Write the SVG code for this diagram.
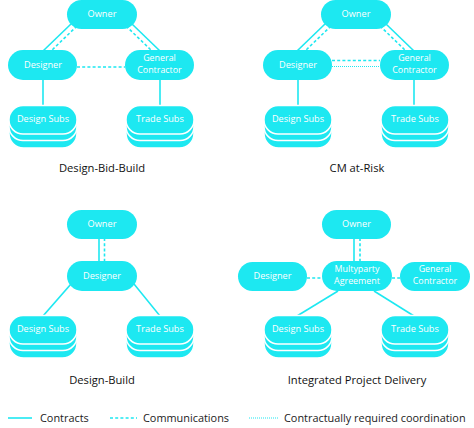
<svg xmlns="http://www.w3.org/2000/svg" width="474" height="428" viewBox="0 0 474 428">
<style>
.n{fill:#1de8f1}
.s{fill:#1de8f1;stroke:#fff;stroke-width:1.5}
.t{fill:#fff;font-family:"Open Sans","Noto Sans",sans-serif;font-size:9.2px;text-anchor:middle}
.t2{fill:#fff;font-family:"Open Sans","Noto Sans",sans-serif;font-size:8.9px;text-anchor:middle}
.c{stroke:#1de8f1;stroke-width:1.6;fill:none}
.d{stroke:#1de8f1;stroke-width:1.6;fill:none;stroke-dasharray:3 2.2}
.o{stroke:#1de8f1;stroke-width:1.2;fill:none;stroke-dasharray:1 1}
.h{fill:#111;font-family:"Open Sans","Noto Sans",sans-serif;font-size:11.2px;text-anchor:middle}
.l{fill:#222;font-family:"Open Sans","Noto Sans",sans-serif;font-size:10.9px}
</style>
<rect width="474" height="428" fill="#fff"/>
<g id="connectors">
<line class="c" x1="71" y1="24" x2="43" y2="51"/>
<line class="d" x1="77" y1="26" x2="50" y2="52"/>
<line class="c" x1="132" y1="24" x2="160" y2="51"/>
<line class="d" x1="126" y1="26" x2="152" y2="51"/>
<line class="d" x1="77" y1="67" x2="125" y2="67"/>
<line class="c" x1="43" y1="80" x2="43" y2="106"/>
<line class="c" x1="160" y1="80" x2="160" y2="106"/>
<line class="c" x1="325" y1="24" x2="297" y2="51"/>
<line class="d" x1="331" y1="26" x2="304" y2="52"/>
<line class="c" x1="386" y1="24" x2="414" y2="51"/>
<line class="d" x1="380" y1="26" x2="406" y2="51"/>
<line class="d" x1="332" y1="60.5" x2="380" y2="60.5"/>
<line class="o" x1="332" y1="66.5" x2="380" y2="66.5"/>
<line class="c" x1="298" y1="80" x2="298" y2="106"/>
<line class="c" x1="414" y1="80" x2="414" y2="106"/>
<line class="c" x1="99" y1="238" x2="99" y2="262"/>
<line class="d" x1="104.5" y1="238" x2="104.5" y2="262"/>
<line class="c" x1="71" y1="284" x2="43" y2="316"/>
<line class="c" x1="134" y1="284" x2="160" y2="316"/>
<line class="c" x1="354" y1="238" x2="354" y2="262"/>
<line class="d" x1="360" y1="238" x2="360" y2="262"/>
<line class="d" x1="307" y1="278" x2="322" y2="278"/>
<line class="d" x1="392" y1="278" x2="400" y2="278"/>
<line class="c" x1="338" y1="291" x2="297" y2="316"/>
<line class="c" x1="374" y1="291" x2="414" y2="316"/>
<line class="c" x1="8" y1="418" x2="32" y2="418"/>
<line class="d" x1="110" y1="418" x2="137" y2="418"/>
<line class="o" x1="249" y1="418" x2="279" y2="418"/>
</g>

<g id="p1-owner"><rect class="n" x="67" y="0" width="70" height="29" rx="14.5"/><text class="t" x="102" y="17">Owner</text></g>
<g id="p1-designer"><rect class="n" x="8" y="50" width="69" height="30" rx="15"/><text class="t" x="43" y="68">Designer</text></g>
<g id="p1-gc"><rect class="n" x="125" y="50" width="69" height="30" rx="15"/><text class="t2" x="159.5" y="61">General</text><text class="t2" x="159.5" y="73.4">Contractor</text></g>
<g id="p1-design-subs"><rect class="s" x="9" y="119" width="68" height="29" rx="14.5"/><rect class="s" x="9" y="112.5" width="68" height="28" rx="14"/><rect class="s" x="9" y="105.5" width="68" height="28.5" rx="14"/><text class="t" x="43" y="121.5">Design Subs</text></g>
<g id="p1-trade-subs"><rect class="s" x="126" y="119" width="68" height="29" rx="14.5"/><rect class="s" x="126" y="112.5" width="68" height="28" rx="14"/><rect class="s" x="126" y="105.5" width="68" height="28.5" rx="14"/><text class="t" x="160" y="121.5">Trade Subs</text></g>
<text class="h" x="102" y="172">Design-Bid-Build</text>

<g id="p2-owner"><rect class="n" x="321" y="0" width="70" height="29" rx="14.5"/><text class="t" x="356" y="17">Owner</text></g>
<g id="p2-designer"><rect class="n" x="263" y="50" width="69" height="30" rx="15"/><text class="t" x="298" y="68">Designer</text></g>
<g id="p2-gc"><rect class="n" x="380" y="50" width="69" height="30" rx="15"/><text class="t2" x="414.5" y="61">General</text><text class="t2" x="414.5" y="73.4">Contractor</text></g>
<g id="p2-design-subs"><rect class="s" x="264" y="119" width="68" height="29" rx="14.5"/><rect class="s" x="264" y="112.5" width="68" height="28" rx="14"/><rect class="s" x="264" y="105.5" width="68" height="28.5" rx="14"/><text class="t" x="298" y="121.5">Design Subs</text></g>
<g id="p2-trade-subs"><rect class="s" x="381" y="119" width="68" height="29" rx="14.5"/><rect class="s" x="381" y="112.5" width="68" height="28" rx="14"/><rect class="s" x="381" y="105.5" width="68" height="28.5" rx="14"/><text class="t" x="415" y="121.5">Trade Subs</text></g>
<text class="h" x="357" y="172">CM at-Risk</text>

<g id="p3-owner"><rect class="n" x="67" y="210" width="70" height="29" rx="14.5"/><text class="t" x="102" y="227">Owner</text></g>
<g id="p3-designer"><rect class="n" x="67" y="261" width="70" height="30" rx="15"/><text class="t" x="102" y="279">Designer</text></g>
<g id="p3-design-subs"><rect class="s" x="9" y="329" width="68" height="29" rx="14.5"/><rect class="s" x="9" y="322.5" width="68" height="28" rx="14"/><rect class="s" x="9" y="315.5" width="68" height="28.5" rx="14"/><text class="t" x="43" y="331.5">Design Subs</text></g>
<g id="p3-trade-subs"><rect class="s" x="126" y="329" width="68" height="29" rx="14.5"/><rect class="s" x="126" y="322.5" width="68" height="28" rx="14"/><rect class="s" x="126" y="315.5" width="68" height="28.5" rx="14"/><text class="t" x="160" y="331.5">Trade Subs</text></g>
<text class="h" x="102" y="384">Design-Build</text>

<g id="p4-owner"><rect class="n" x="322" y="210" width="69" height="29" rx="14.5"/><text class="t" x="356.5" y="227">Owner</text></g>
<g id="p4-designer"><rect class="n" x="238" y="262" width="69" height="29" rx="14.5"/><text class="t" x="272.5" y="279">Designer</text></g>
<g id="p4-mpa"><rect class="n" x="322" y="261" width="70" height="30" rx="15"/><text class="t2" x="357" y="272">Multyparty</text><text class="t2" x="357" y="284.4">Agreement</text></g>
<g id="p4-gc"><rect class="n" x="400" y="262" width="70" height="29" rx="14.5"/><text class="t2" x="435" y="272">General</text><text class="t2" x="435" y="284.4">Contractor</text></g>
<g id="p4-design-subs"><rect class="s" x="264" y="329" width="68" height="29" rx="14.5"/><rect class="s" x="264" y="322.5" width="68" height="28" rx="14"/><rect class="s" x="264" y="315.5" width="68" height="28.5" rx="14"/><text class="t" x="298" y="331.5">Design Subs</text></g>
<g id="p4-trade-subs"><rect class="s" x="381" y="329" width="68" height="29" rx="14.5"/><rect class="s" x="381" y="322.5" width="68" height="28" rx="14"/><rect class="s" x="381" y="315.5" width="68" height="28.5" rx="14"/><text class="t" x="415" y="331.5">Trade Subs</text></g>
<text class="h" x="357" y="384">Integrated Project Delivery</text>

<g id="legend">
<text class="l" x="40" y="422">Contracts</text>
<text class="l" x="143" y="422">Communications</text>
<text class="l" x="284" y="422">Contractually required coordination</text>
</g>
</svg>
